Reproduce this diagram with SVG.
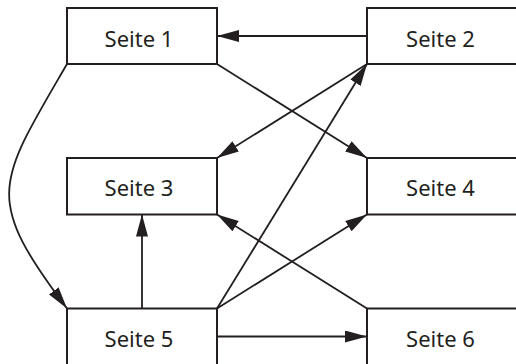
<svg xmlns="http://www.w3.org/2000/svg" width="516" height="364" viewBox="0 0 516 364">
<style>
.box{fill:#ffffff;stroke:#231f20;stroke-width:2}
.lbl{font-family:"Noto Sans","Open Sans","Liberation Sans",sans-serif;font-size:22px;fill:#231f20;text-anchor:middle}
.edge{fill:none;stroke:#231f20;stroke-width:1.8;marker-end:url(#arr)}
</style>
<defs>
<marker id="arr" markerUnits="userSpaceOnUse" markerWidth="22" markerHeight="12" viewBox="0 0 22 12" refX="22" refY="6" orient="auto">
<path d="M0,0 L22,6 L0,12 z" fill="#231f20"/>
</marker>
</defs>
<rect width="516" height="364" fill="#ffffff"/>
<g id="connectors">
<line class="edge" x1="367" y1="36" x2="217" y2="36"/>
<line class="edge" x1="217" y1="64" x2="367" y2="158"/>
<line class="edge" x1="367" y1="64" x2="217" y2="158"/>
<line class="edge" x1="217" y1="308.5" x2="367" y2="64"/>
<line class="edge" x1="217" y1="308.5" x2="367" y2="214.5"/>
<line class="edge" x1="367" y1="308.5" x2="217" y2="214.5"/>
<line class="edge" x1="142" y1="308.5" x2="142" y2="214.5"/>
<line class="edge" x1="217" y1="336.5" x2="367" y2="336.5"/>
<path class="edge" d="M67,64 C-3,184.4 -17,197 67,308.5"/>
</g>
<g id="n1"><rect class="box" x="67" y="8" width="150" height="56"/><text class="lbl" x="139" y="46.5">Seite 1</text></g>
<g id="n2"><rect class="box" x="367" y="8" width="150" height="56"/><text class="lbl" x="440.5" y="46.5">Seite 2</text></g>
<g id="n3"><rect class="box" x="67" y="158" width="150" height="56.5"/><text class="lbl" x="139" y="195.5">Seite 3</text></g>
<g id="n4"><rect class="box" x="367" y="158" width="150" height="56.5"/><text class="lbl" x="440.5" y="195.5">Seite 4</text></g>
<g id="n5"><rect class="box" x="67" y="308.5" width="150" height="57"/><text class="lbl" x="139" y="347">Seite 5</text></g>
<g id="n6"><rect class="box" x="367" y="308.5" width="150" height="57"/><text class="lbl" x="440.5" y="347">Seite 6</text></g>
</svg>
